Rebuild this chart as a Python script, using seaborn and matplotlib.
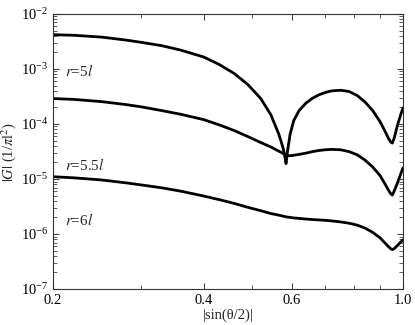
import numpy as np
import pandas as pd
import matplotlib
matplotlib.use('Agg')
import matplotlib.pyplot as plt
import matplotlib.ticker as mticker
import seaborn as sns

# values
x_vals = [0.2, 0.22, 0.25, 0.28, 0.3, 0.33, 0.36, 0.4, 0.43, 0.46, 0.49, 0.52, 0.545, 0.565,
          0.575, 0.58, 0.584, 0.588, 0.595, 0.605, 0.62, 0.64, 0.66, 0.68, 0.7, 0.72, 0.75,
          0.78, 0.81, 0.84, 0.87, 0.9, 0.92, 0.935, 0.945, 0.952, 0.96, 0.975, 0.99, 1.0]
g_r5 = [4.2e-3, 4.1e-3, 3.8e-3, 3.35e-3, 3.05e-3, 2.65e-3, 2.2e-3, 1.65e-3, 1.2e-3, 8.3e-4,
        5.2e-4, 2.9e-4, 1.45e-4, 6.5e-5, 3.9e-5, 2.8e-5, 1.9e-5, 3.2e-5, 6.5e-5, 1.15e-4,
        1.75e-4, 2.4e-4, 2.95e-4, 3.4e-4, 3.75e-4, 4.0e-4, 4.1e-4, 3.9e-4, 3.3e-4, 2.5e-4,
        1.75e-4, 1.1e-4, 7.5e-5, 5.5e-5, 4.7e-5, 4.5e-5, 5.5e-5, 9.5e-5, 1.5e-4, 1.95e-4]
g_r55 = [2.9e-4, 2.8e-4, 2.55e-4, 2.25e-4, 2.05e-4, 1.75e-4, 1.5e-4, 1.2e-4, 9.6e-5, 7.6e-5,
         5.9e-5, 4.6e-5, 3.8e-5, 3.2e-5, 2.95e-5, 2.8e-5, 2.7e-5, 2.65e-5, 2.65e-5, 2.7e-5,
         2.8e-5, 2.95e-5, 3.15e-5, 3.3e-5, 3.4e-5, 3.45e-5, 3.4e-5, 3.15e-5, 2.75e-5, 2.2e-5,
         1.65e-5, 1.15e-5, 8.2e-6, 6.3e-6, 5.4e-6, 5.1e-6, 6.0e-6, 8.5e-6, 1.25e-5, 1.6e-5]
g_r6 = [1.1e-5, 1.05e-5, 9.6e-6, 8.5e-6, 7.8e-6, 6.9e-6, 6.0e-6, 4.9e-6, 4.2e-6, 3.6e-6,
        3.05e-6, 2.65e-6, 2.35e-6, 2.2e-6, 2.12e-6, 2.08e-6, 2.05e-6, 2.03e-6, 2.0e-6, 1.96e-6,
        1.92e-6, 1.87e-6, 1.83e-6, 1.8e-6, 1.77e-6, 1.73e-6, 1.66e-6, 1.57e-6, 1.45e-6, 1.28e-6,
        1.07e-6, 8.5e-7, 6.9e-7, 5.9e-7, 5.4e-7, 5.2e-7, 5.4e-7, 6.2e-7, 7.2e-7, 7.8e-7]
curve_names = ['r5', 'r55', 'r6']
curve_labels = ['$r$=5$l$', '$r$=5.5$l$', '$r$=6$l$']
x_major = [0.2, 0.4, 0.6, 1.0]
x_minor = [0.3, 0.5, 0.7, 0.8, 0.9]
y_major = [1e-7, 1e-6, 1e-5, 1e-4, 1e-3, 1e-2]

df = pd.DataFrame({
    'x': x_vals * 3,
    'G': g_r5 + g_r55 + g_r6,
    'curve': [n for n in curve_names for _ in x_vals],
})

sns.set_style('ticks')
plt.rcParams['font.family'] = ['Liberation Serif', 'DejaVu Serif']
plt.rcParams['mathtext.fontset'] = 'stix'

fig = plt.figure(figsize=(4.15, 3.25), dpi=100)
ax = fig.add_axes([0.1277, 0.1108, 0.8434, 0.8462])

sns.lineplot(data=df, x='x', y='G', units='curve', estimator=None,
             color='black', linewidth=2.0, sort=False, ax=ax)

ax.set_xscale('log')
ax.set_yscale('log')
ax.set_xlim(0.2, 1.0)
ax.set_ylim(1e-7, 1e-2)

# minor y ticks at 2..9 of each decade
y_minor = [m * d for d in y_major[:-1] for m in range(2, 10)]

ax.xaxis.set_major_locator(mticker.FixedLocator(x_major))
ax.xaxis.set_major_formatter(mticker.FixedFormatter(['0.2', '0.4', '0.6', '1.0']))
ax.xaxis.set_minor_locator(mticker.FixedLocator(x_minor))
ax.xaxis.set_minor_formatter(mticker.NullFormatter())
ax.yaxis.set_major_locator(mticker.FixedLocator(y_major))
ax.yaxis.set_major_formatter(mticker.LogFormatterSciNotation())
ax.yaxis.set_minor_locator(mticker.FixedLocator(y_minor))
ax.yaxis.set_minor_formatter(mticker.NullFormatter())

ax.tick_params(which='both', direction='in', top=True, right=True,
               labelsize=10.5, color='#444444', labelcolor='black')
ax.tick_params(which='major', length=4.5, width=0.8)
ax.tick_params(which='minor', length=3, width=0.6)
for s in ax.spines.values():
    s.set_linewidth(0.8)
    s.set_color('#333333')

ax.set_xlabel('|sin(θ/2)|', fontsize=10.5, labelpad=1)
ax.set_ylabel('$|G|$ (1/$\\pi$l$^2$)', fontsize=10.5, labelpad=2)

for lab, ypos in zip(curve_labels, [0.793, 0.451, 0.251]):
    ax.text(0.034, ypos, lab, transform=ax.transAxes, fontsize=11, va='center', ha='left')

fig.savefig('out.png', dpi=100)
